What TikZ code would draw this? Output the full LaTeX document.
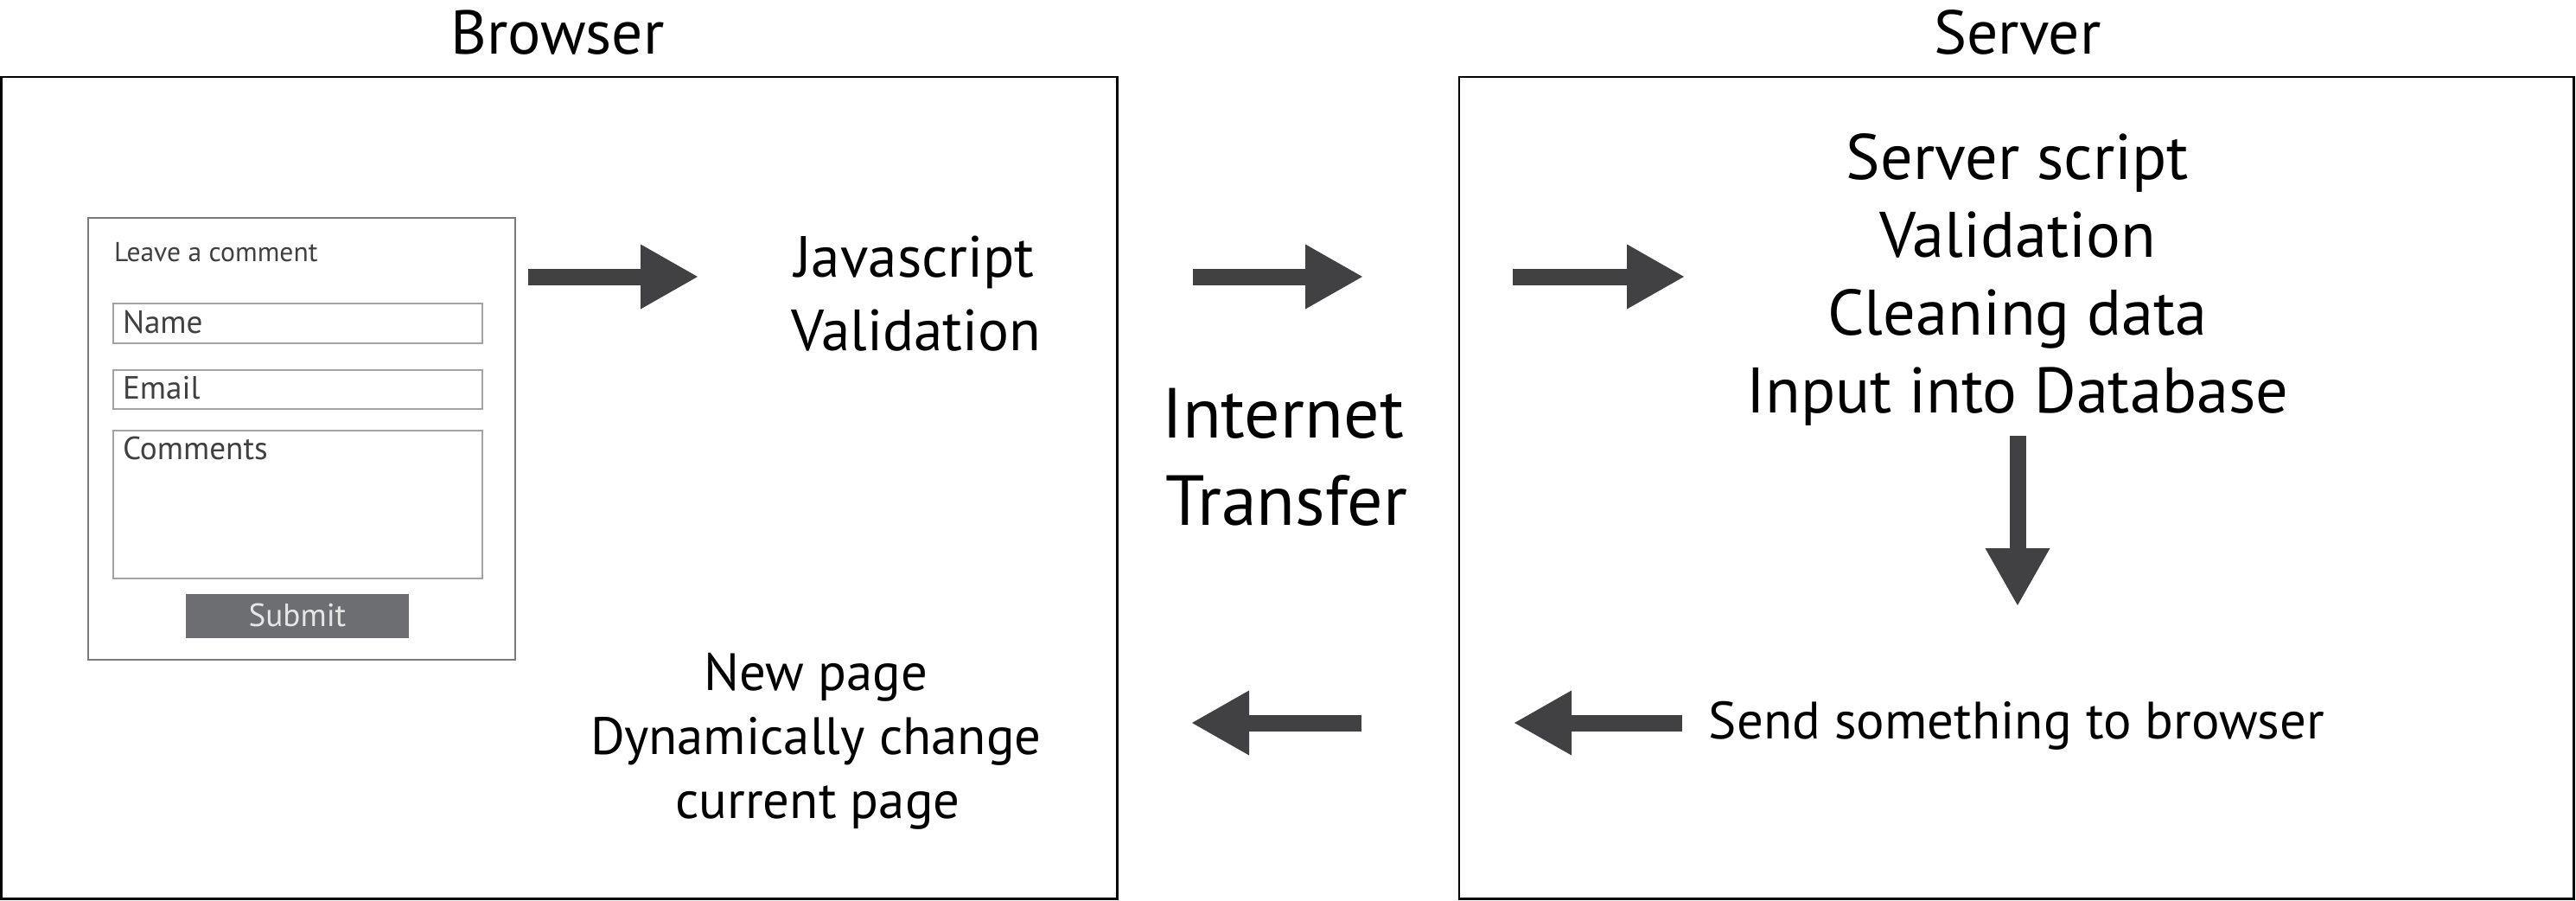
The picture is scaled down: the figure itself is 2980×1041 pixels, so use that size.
\documentclass[tikz,border=0pt]{standalone}
\usepackage{fontspec}
\setmainfont{PT Sans}
\usetikzlibrary{arrows.meta}
\definecolor{arrowgray}{HTML}{414042}
\definecolor{formtext}{HTML}{404041}
\definecolor{formborder}{HTML}{7A7A7A}
\definecolor{fieldborder}{HTML}{A3A3A3}
\definecolor{submitfill}{HTML}{6D6E71}
\definecolor{submittext}{HTML}{E6E6E6}
\begin{document}
\begin{tikzpicture}[x=0.25pt,y=-0.25pt,
  every node/.style={inner sep=0pt, outer sep=0pt},
  bigbox/.style={draw=black, line width=0.7pt},
  formbox/.style={draw=formborder, line width=0.4pt},
  fieldbox/.style={draw=fieldborder, line width=0.4pt},
  blockarrow/.style={draw=arrowgray, line width=4.75pt,
    -{Triangle[length=16.5pt,width=18.75pt,line width=0pt]}},
  titletext/.style={anchor=base, font=\fontsize{17.9pt}{21pt}\selectfont},
  jstext/.style={anchor=base, font=\fontsize{16.8pt}{20pt}\selectfont},
  nettext/.style={anchor=base, font=\fontsize{20.5pt}{24pt}\selectfont},
  srvtext/.style={anchor=base, font=\fontsize{18.6pt}{22pt}\selectfont},
  smalltext/.style={anchor=base, font=\fontsize{15.2pt}{18pt}\selectfont},
  leavetext/.style={anchor=base west, text=formtext, font=\fontsize{7.9pt}{9pt}\selectfont},
  fieldtext/.style={anchor=base west, text=formtext, font=\fontsize{9.3pt}{11pt}\selectfont},
  submitlabel/.style={anchor=base, text=submittext, font=\fontsize{9.3pt}{11pt}\selectfont}]
\useasboundingbox (0,0) rectangle (2980,1041);

% main boxes
\draw[bigbox] (1.5,89) rectangle (1292.5,1039.5);
\draw[bigbox] (1688,89) rectangle (2977.5,1039.5);

% titles
\node[titletext] (tbrowser) at (645,62) {Browser};
\node[titletext] (tserver) at (2334,62) {Server};

% form
\draw[formbox] (102,252) rectangle (596,763);
\node[leavetext] (leave) at (132,302) {Leave a comment};
\draw[fieldbox] (131,351) rectangle (558,397);
\node[fieldtext] (fname) at (142,385) {Name};
\draw[fieldbox] (131,428) rectangle (558,473);
\node[fieldtext] (femail) at (142,461) {Email};
\draw[fieldbox] (131,498) rectangle (558,669);
\node[fieldtext] (fcomments) at (142,531) {Comments};
\fill[submitfill] (215,687) rectangle (473,738);
\node[submitlabel] (submit) at (344,724) {Submit};

% browser texts
\node[jstext] (js1) at (1058,320) {Javascript};
\node[jstext] (js2) at (1060,405) {Validation};
\node[smalltext] (np1) at (944,798) {New page};
\node[smalltext] (np2) at (944,872) {Dynamically change};
\node[smalltext] (np3) at (946,946) {current page};

% internet
\node[nettext] (in1) at (1484,506) {Internet};
\node[nettext] (in2) at (1488,607) {Transfer};

% server texts
\node[srvtext] (s1) at (2334,207) {Server script};
\node[srvtext] (s2) at (2334,297) {Validation};
\node[srvtext] (s3) at (2334,387) {Cleaning data};
\node[srvtext] (s4) at (2334,477) {Input into Database};
\node[smalltext] (send) at (2333,854) {Send something to browser};

% arrows
\coordinate (a1s) at (611,320);  \coordinate (a1e) at (807,320);
\coordinate (a2s) at (1380,320); \coordinate (a2e) at (1576,320);
\coordinate (a3s) at (1750,320); \coordinate (a3e) at (1948,320);
\coordinate (a4s) at (2334,504); \coordinate (a4e) at (2334,700);
\coordinate (a5s) at (1946,836); \coordinate (a5e) at (1752,836);
\coordinate (a6s) at (1575,836); \coordinate (a6e) at (1379,836);
\draw[blockarrow] (a1s) -- (a1e);
\draw[blockarrow] (a2s) -- (a2e);
\draw[blockarrow] (a3s) -- (a3e);
\draw[blockarrow] (a4s) -- (a4e);
\draw[blockarrow] (a5s) -- (a5e);
\draw[blockarrow] (a6s) -- (a6e);
\end{tikzpicture}
\end{document}
